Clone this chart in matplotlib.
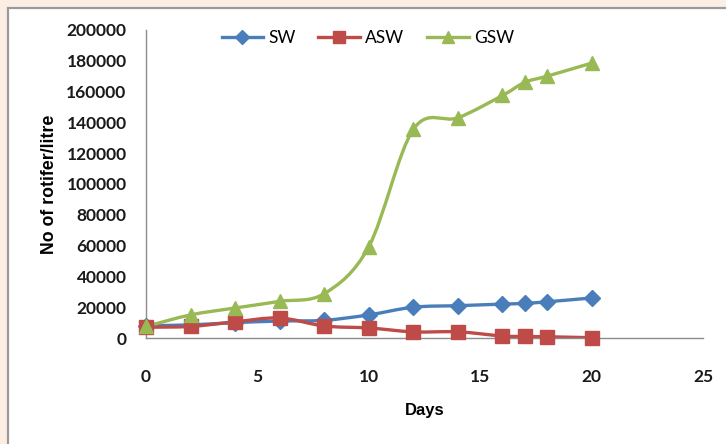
import numpy as np
import matplotlib
matplotlib.use('Agg')
import matplotlib.pyplot as plt
from matplotlib.path import Path
from matplotlib.patches import PathPatch, Rectangle
from matplotlib.lines import Line2D

days = [0, 2, 4, 6, 8, 10, 12, 14, 16, 17, 18, 20]
sw = [8000, 8500, 10000, 11000, 11500, 15000, 20000, 21000, 22000, 22500, 23500, 26000]
asw = [7000, 7500, 10500, 13000, 7800, 6500, 4000, 4000, 1300, 1000, 800, 200]
gsw = [7500, 15000, 19500, 23800, 28800, 59300, 135500, 143000, 157500, 166000, 170000, 178500]

names = ['SW', 'ASW', 'GSW']
colors = ['#4A7EBB', '#BE4B48', '#98B954']
markers = ['D', 's', '^']
msizes = [8, 10, 10]

fig = plt.figure(figsize=(7.26, 4.44), dpi=100)
fig.patch.set_facecolor('#FCEEE3')
# white panel with grey frame
fig.patches.append(Rectangle((8 / 726, -0.1), 1.1, (444 - 8) / 444 + 0.1,
                             transform=fig.transFigure, fc='white',
                             ec='#9A9A9A', lw=1.6, zorder=0))

ax = fig.add_axes([146 / 726, 106 / 444, 557 / 726, 308 / 444])
ax.set_zorder(2)
ax.patch.set_alpha(0)


def smooth_path(xs, ys):
    # excel-like smoothed line: cubic bezier through each point
    pts = np.column_stack([xs, ys]).astype(float)
    n = len(pts)
    verts = [pts[0]]
    codes = [Path.MOVETO]
    for i in range(n - 1):
        p0 = pts[max(i - 1, 0)]
        p1 = pts[i]
        p2 = pts[i + 1]
        p3 = pts[min(i + 2, n - 1)]
        c1 = p1 + (p2 - p0) / 6.0
        c2 = p2 - (p3 - p1) / 6.0
        verts += [c1, c2, p2]
        codes += [Path.CURVE4] * 3
    return Path(verts, codes)


for ys, c, m, ms in zip([sw, asw, gsw], colors, markers, msizes):
    ax.add_patch(PathPatch(smooth_path(days, ys), fc='none', ec=c, lw=2.4,
                           capstyle='round', joinstyle='round', zorder=2))
    ax.plot(days, ys, linestyle='none', marker=m, color=c, ms=ms, zorder=3,
            clip_on=False)

ax.set_xlim(0, 25)
ax.set_ylim(0, 200000)
ax.set_xticks([0, 5, 10, 15, 20, 25])
ax.set_yticks(range(0, 200001, 20000))
ax.tick_params(length=0, labelsize=12.5, labelcolor='#1A1A1A')
for lab in ax.get_xticklabels() + ax.get_yticklabels():
    lab.set_family('Lato')
    lab.set_fontweight('bold')
ax.tick_params(axis='x', pad=22)
ax.tick_params(axis='y', pad=14)
for s in ['top', 'right']:
    ax.spines[s].set_visible(False)
for s in ['left', 'bottom']:
    ax.spines[s].set_color('#8C8C8C')
    ax.spines[s].set_linewidth(1.0)

ax.set_xlabel('Days', fontsize=12, fontweight='bold', family='Liberation Sans', labelpad=13)
ax.set_ylabel('No of rotifer/litre', fontsize=12.8, fontweight='bold', family='Liberation Sans', labelpad=6)

handles = [Line2D([], [], color=c, marker=m, ms=ms - 1, lw=2.4) for c, m, ms in zip(colors, markers, msizes)]
ax.legend(handles, names, ncol=3, frameon=False, loc='upper left',
          bbox_to_anchor=(60 / 557, 1.05), prop={'family': 'Lato', 'size': 12.5},
          handlelength=2.4, handletextpad=0.3, columnspacing=1.3)

fig.savefig('out.png', dpi=100, facecolor=fig.get_facecolor())
